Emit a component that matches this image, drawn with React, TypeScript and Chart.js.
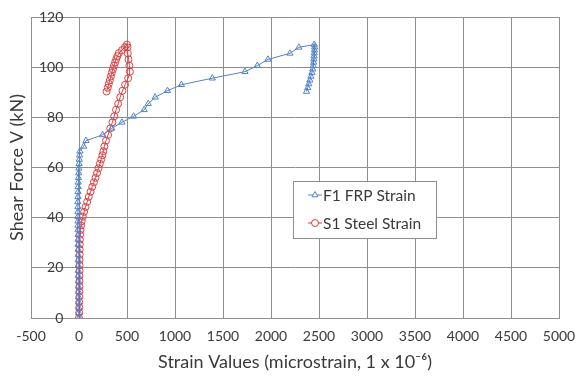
import React, { useEffect, useRef } from 'react';
import { Chart, registerables } from 'chart.js';

Chart.register(...registerables);

// Shared load steps (kN) for both gauges
const loads = [
  0, 2.1, 4.2, 6.3, 8.4, 10.5, 12.6, 14.7, 16.8, 18.9, 21.0, 23.1, 25.2, 27.3, 29.3,
  31.3, 33.2, 35.1, 36.9, 38.6, 40.4, 42.3, 44.3, 46.3, 48.3, 50.3, 52.3, 54.1, 55.9,
  57.8, 59.7, 61.5, 63.2, 64.9, 66.5, 68.4, 70.7, 73.0, 75.6, 78.0, 80.4, 83.0, 85.4,
  88.0, 90.6, 93.0, 95.6, 98.2, 100.6, 103.1, 105.5, 107.9, 109.0,
  108.0, 106.8, 105.6, 104.4, 103.2, 101.9, 100.6, 99.2, 97.8, 96.3, 94.8, 93.3, 91.8, 90.3,
];

// F1 FRP strain (microstrain)
const frpStrain = [
  0, -2, -3, -4, -4, -5, -6, -6, -7, -7, -8, -8, -9, -9, -10,
  -10, -10, -11, -11, -11, -12, -12, -12, -12, -11, -10, -9, -8, -6,
  -4, -2, 0, 3, 6, 10, 49, 73, 246, 340, 447, 568, 679, 721,
  793, 922, 1067, 1389, 1729, 1857, 1968, 2197, 2290, 2450,
  2455, 2453, 2451, 2449, 2447, 2444, 2440, 2434, 2426, 2416, 2405, 2394, 2383, 2370,
];

// S1 steel strain (microstrain)
const steelStrain = [
  0, 2, 3, 3, 4, 4, 5, 5, 5, 6, 6, 6, 7, 7, 8,
  9, 12, 16, 22, 28, 40, 53, 68, 85, 102, 120, 138, 155, 172,
  188, 203, 217, 231, 244, 254, 264, 281, 303, 325, 348, 367, 386, 408,
  429, 453, 480, 512, 530, 525, 516, 508, 505, 500,
  478, 448, 415, 400, 388, 376, 364, 353, 342, 332, 321, 310, 299, 287,
];

const seriesNames = ['F1 FRP Strain', 'S1 Steel Strain'];
const xTitle = 'Strain Values (microstrain, 1 x 10\u207B\u2076)';
const yTitle = 'Shear Force V (kN)';
const xRange = [-500, 5000, 500];
const yRange = [0, 120, 20];

const BLUE = '#5283CC';
const RED = '#DE3F3F';
const GRID = '#8E8E8E';
const TEXT = '#3A3A3A';
const FONT = 'Lato';

const legendPlugin = {
  id: 'boxLegend',
  afterDraw(chart: any) {
    const ctx = chart.ctx;
    const x0 = 293.5, y0 = 181.5, w = 143, h = 57;
    ctx.save();
    ctx.fillStyle = '#ffffff';
    ctx.fillRect(x0, y0, w, h);
    ctx.strokeStyle = GRID;
    ctx.lineWidth = 1;
    ctx.strokeRect(x0, y0, w, h);
    const rows = [195, 223];
    chart.data.datasets.forEach((ds: any, i: number) => {
      const y = rows[i];
      ctx.strokeStyle = ds.borderColor;
      ctx.lineWidth = 1;
      ctx.beginPath();
      ctx.moveTo(308, y);
      ctx.lineTo(322, y);
      ctx.stroke();
      ctx.fillStyle = '#ffffff';
      ctx.beginPath();
      const r = 3.5;
      if (ds.pointStyle === 'triangle') {
        ctx.moveTo(315, y - r);
        ctx.lineTo(315 + r * 0.866, y + r * 0.5);
        ctx.lineTo(315 - r * 0.866, y + r * 0.5);
        ctx.closePath();
      } else {
        ctx.arc(315, y, r, 0, Math.PI * 2);
      }
      ctx.fill();
      ctx.stroke();
      ctx.fillStyle = TEXT;
      ctx.font = `15.5px ${FONT}`;
      ctx.textBaseline = 'middle';
      ctx.textAlign = 'left';
      ctx.fillText(ds.label, 323, y + 0.5);
    });
    ctx.restore();
  },
};

export default function App() {
  const ref = useRef<HTMLCanvasElement | null>(null);

  useEffect(() => {
    if (!ref.current) return;
    const frpPts = loads.map((v, i) => ({ x: frpStrain[i], y: v }));
    const steelPts = loads.map((v, i) => ({ x: steelStrain[i], y: v }));
    const chart = new Chart(ref.current, {
      type: 'scatter',
      data: {
        datasets: [
          {
            label: seriesNames[0],
            data: frpPts,
            showLine: true,
            borderColor: BLUE,
            backgroundColor: 'rgba(255,255,255,0)',
            borderWidth: 1,
            pointStyle: 'triangle',
            pointRadius: 3.6,
            pointBorderWidth: 1,
            pointBorderColor: BLUE,
            pointBackgroundColor: 'rgba(255,255,255,0)',
          },
          {
            label: seriesNames[1],
            data: steelPts,
            showLine: true,
            borderColor: RED,
            backgroundColor: 'rgba(255,255,255,0)',
            borderWidth: 1,
            pointStyle: 'circle',
            pointRadius: 3.5,
            pointBorderWidth: 1,
            pointBorderColor: RED,
            pointBackgroundColor: 'rgba(255,255,255,0)',
          },
        ] as any,
      },
      options: {
        animation: false,
        responsive: true,
        maintainAspectRatio: false,
        layout: { padding: { top: 17, right: 18, left: 0, bottom: 0 } },
        plugins: { legend: { display: false }, tooltip: { enabled: false } },
        scales: {
          x: {
            type: 'linear',
            min: xRange[0],
            max: xRange[1],
            afterFit: (s: any) => {
              s.height = 60;
              s.paddingLeft = 0;
              s.paddingRight = 0;
            },
            ticks: {
              stepSize: xRange[2],
              autoSkip: false,
              maxRotation: 0,
              padding: 10,
              color: TEXT,
              font: { family: FONT, size: 14 },
              callback: (v: any) => String(v),
            },
            grid: { color: GRID, drawTicks: false, lineWidth: 1 },
            border: { color: GRID },
            title: {
              display: true,
              text: xTitle,
              color: TEXT,
              font: { family: FONT, size: 18 },
              padding: { top: 0, bottom: 5 },
            },
          },
          y: {
            type: 'linear',
            min: yRange[0],
            max: yRange[1],
            afterFit: (s: any) => {
              s.width = 31;
              s.paddingTop = 0;
              s.paddingBottom = 0;
            },
            ticks: {
              stepSize: yRange[2],
              mirror: true,
              crossAlign: 'far',
              padding: 8,
              color: TEXT,
              font: { family: FONT, size: 14 },
              callback: (v: any) => String(v),
            },
            grid: { color: GRID, drawTicks: false, lineWidth: 1 },
            border: { color: GRID },
            title: {
              display: true,
              text: yTitle,
              color: TEXT,
              font: { family: FONT, size: 18 },
              padding: { top: 6, bottom: 0 },
            },
          },
        },
      } as any,
      plugins: [legendPlugin],
    });
    return () => chart.destroy();
  }, []);

  return (
    <div style={{ position: 'absolute', left: 0, top: 0, width: 577, height: 378, background: '#fff' }}>
      <canvas ref={ref} />
    </div>
  );
}
